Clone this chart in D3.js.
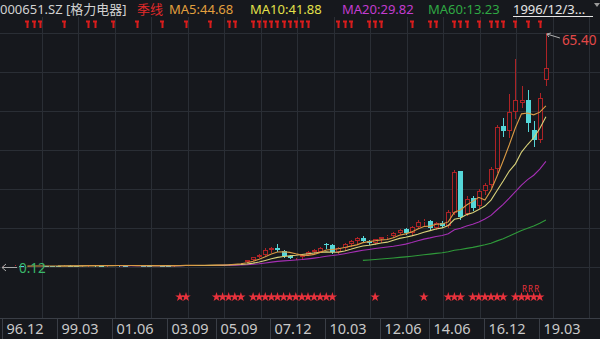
<!DOCTYPE html>
<html lang="zh">
<head>
<meta charset="UTF-8">
<title>000651.SZ 季线</title>
<style>
body{margin:0;background:#16181d;overflow:hidden;}
svg{display:block;}
text{font-family:"Noto Sans","Noto Sans CJK SC",sans-serif;}
</style>
</head>
<body>
<svg id="chart" width="600" height="339"></svg>
<script src="https://d3js.org/d3.v7.min.js"></script>
<script>
// quarterly candles 1996Q4 .. 2019Q2 (2016Q2 suspended, no candle)
const opens = [0.15,0.25,0.38,0.45,0.36,0.38,0.44,0.46,0.40,0.38,
  0.36,0.50,0.47,0.42,0.55,0.56,0.52,0.50,0.58,0.60,
  0.50,0.47,0.49,0.52,0.49,0.45,0.52,0.50,0.48,0.56,
  0.66,0.60,0.63,0.58,0.60,0.64,0.72,0.76,1.00,1.25,
  1.45,2.10,2.90,3.60,4.90,5.30,4.60,3.30,2.70,2.90,
  3.50,4.30,4.40,6.40,6.30,4.20,5.40,6.50,7.30,8.20,
  7.30,6.80,7.80,8.40,8.70,9.60,10.8,9.60,11.2,12.6,
  12.9,11.0,12.4,11.6,15.2,26.8,15.0,19.3,17.2,21.3,
  23.0,27.4,39.4,38.0,43.5,46.0,46.8,38.3,35.5,52.4];
const highs = [0.30,0.42,0.55,0.50,0.42,0.48,0.52,0.48,0.44,0.42,
  0.55,0.56,0.49,0.58,0.62,0.60,0.56,0.62,0.64,0.61,
  0.54,0.52,0.58,0.55,0.51,0.54,0.56,0.53,0.58,0.72,
  0.70,0.66,0.66,0.64,0.68,0.75,0.80,1.05,1.35,1.50,
  2.20,3.00,3.80,5.30,5.60,6.40,4.80,3.40,3.00,3.60,
  4.50,5.20,5.60,6.70,6.60,5.60,6.80,7.60,8.40,8.70,
  7.60,8.00,8.60,9.00,9.80,10.8,11.1,11.5,13.2,13.4,
  13.2,12.6,12.9,16.0,27.1,27.0,19.8,20.0,22.0,23.5,
  28.0,39.8,41.7,48.3,58.1,50.6,49.6,40.8,48.7,65.40];
const lows = [0.12,0.23,0.35,0.33,0.32,0.36,0.40,0.36,0.35,0.33,
  0.35,0.44,0.40,0.41,0.50,0.50,0.48,0.49,0.54,0.48,
  0.44,0.44,0.46,0.47,0.43,0.44,0.48,0.46,0.47,0.55,
  0.56,0.57,0.55,0.54,0.55,0.62,0.66,0.74,0.96,1.15,
  1.40,2.00,2.80,3.50,4.40,4.60,3.00,2.50,2.30,2.70,
  3.40,4.10,4.20,5.50,4.00,4.00,5.00,6.00,6.80,7.00,
  6.50,6.60,7.20,7.80,8.50,9.20,9.30,9.40,11.0,11.8,
  10.6,10.8,11.2,11.4,14.8,13.6,14.6,16.0,16.5,20.5,
  22.5,26.5,36.6,36.5,41.7,44.8,38.0,34.0,35.0,51.0];
const closes = [0.25,0.38,0.45,0.36,0.38,0.44,0.46,0.40,0.38,0.36,
  0.50,0.47,0.42,0.55,0.56,0.52,0.50,0.58,0.60,0.50,
  0.47,0.49,0.52,0.49,0.45,0.52,0.50,0.48,0.56,0.66,
  0.60,0.63,0.58,0.60,0.64,0.72,0.76,1.00,1.25,1.45,
  2.10,2.90,3.60,4.90,5.30,4.80,3.30,2.70,2.90,3.50,
  4.30,4.80,5.40,6.30,4.20,5.40,6.50,7.30,8.10,7.30,
  6.80,7.80,8.40,8.70,9.60,10.5,9.60,11.2,12.8,13.0,
  11.0,12.3,11.6,15.6,26.7,14.0,19.1,16.7,21.3,23.0,
  27.4,39.2,38.0,43.5,46.8,46.7,40.3,35.5,47.3,55.5];

const tickIdx = [0, 9, 18, 27, 35, 44, 53, 62, 70, 79, 88];
const tickLabels = ["96.12","99.03","01.06","03.09","05.09","07.12","10.03","12.06","14.06","16.12","19.03"];

// info-mine flags along the top, stars along the bottom
const mineIdx = [4,5,6,10,14,15,18,22,26,30,34,37,38,41,42,43,44,45,46,47,48,49,50,55,56,57,60,61,62,67,70,71,74,75,76,78,80,81,82,84,86,88];
const starIdx = [29,30,35,36,37,38,39,41,42,43,44,45,46,47,48,49,50,51,52,53,54,61,69,73,74,75,77,78,79,80,81,82,84,85,86,87,88];
const rIdx = [85,86,87];

const maInfo = [
  {n: 5,  label: "MA5:44.68",  color: "#e2a03e", line: "#d99a45"},
  {n: 10, label: "MA10:41.88", color: "#e3e04a", line: "#d9d27a"},
  {n: 20, label: "MA20:29.82", color: "#c23ccf", line: "#a52fb4"},
  {n: 60, label: "MA60:13.23", color: "#2fa843", line: "#2f9a3a"}
];

var svg = d3.select("#chart"),
    W = 600, H = 339,
    n = closes.length,
    x = d3.scaleLinear().domain([0, n - 1]).range([3, 3 + 6.1 * (n - 1)]),
    y = d3.scaleLinear().domain([0.12, 65.40]).range([267, 33]),
    axisY = 318,
    upColor = "#ad2326",
    downColor = "#55d6d8",
    gridColor = "#2a2e35";

var candles = closes.map(function (c, i) {
  return {i: i, o: opens[i], h: highs[i], l: lows[i], c: c};
});

// grid
var grid = svg.append("g");
grid.selectAll(".hg")
  .data(d3.range(7).map(function (k) { return 0.12 + k * (65.40 - 0.12) / 6; }))
  .enter().append("line")
  .attr("x1", 0).attr("x2", W)
  .attr("y1", function (d) { return Math.round(y(d)) + 0.5; })
  .attr("y2", function (d) { return Math.round(y(d)) + 0.5; })
  .attr("stroke", gridColor);
grid.selectAll(".vg")
  .data(d3.range(1, 17))
  .enter().append("line")
  .attr("x1", function (k) { return Math.round(5 + k * 36.5) + 0.5; })
  .attr("x2", function (k) { return Math.round(5 + k * 36.5) + 0.5; })
  .attr("y1", 17).attr("y2", axisY)
  .attr("stroke", gridColor);

// candles
var cg = svg.append("g");
candles.forEach(function (d) {
  var cx = Math.round(x(d.i)),
      up = d.c >= d.o,
      col = up ? upColor : downColor,
      top = Math.round(y(Math.max(d.o, d.c))),
      bot = Math.round(y(Math.min(d.o, d.c)));
  if (bot - top < 1) bot = top + 1;
  cg.append("line")
    .attr("x1", cx + 0.5).attr("x2", cx + 0.5)
    .attr("y1", Math.round(y(d.h))).attr("y2", top)
    .attr("stroke", col);
  cg.append("line")
    .attr("x1", cx + 0.5).attr("x2", cx + 0.5)
    .attr("y1", bot).attr("y2", Math.round(y(d.l)) + 1)
    .attr("stroke", col);
  if (up) {
    cg.append("rect")
      .attr("x", cx - 1.5).attr("y", top + 0.5)
      .attr("width", 4).attr("height", Math.max(bot - top - 1, 0))
      .attr("fill", "#16181d").attr("stroke", col);
  } else {
    cg.append("rect")
      .attr("x", cx - 2).attr("y", top)
      .attr("width", 5).attr("height", bot - top)
      .attr("fill", col);
  }
});

// moving averages
function movingAvg(k) {
  return closes.map(function (c, i) {
    return i < k - 1 ? null : d3.mean(closes.slice(i - k + 1, i + 1));
  });
}
var line = d3.line()
  .defined(function (d) { return d !== null; })
  .x(function (d, i) { return x(i); })
  .y(function (d) { return y(d); });
maInfo.slice().reverse().forEach(function (m) {
  svg.append("path")
    .datum(movingAvg(m.n))
    .attr("d", line)
    .attr("fill", "none")
    .attr("stroke", m.line)
    .attr("stroke-width", 1.1);
});

// header
var head = svg.append("g").attr("font-size", 13);
head.append("text").attr("x", 0).attr("y", 14).attr("fill", "#d2d2d2").text("000651.SZ [格力电器]");
head.append("text").attr("x", 137).attr("y", 14).attr("fill", "#e02a2a").text("季线");
var headX = [169, 250, 342, 428];
maInfo.forEach(function (m, k) {
  head.append("text").attr("x", headX[k]).attr("y", 14).attr("fill", m.color).text(m.label);
});
head.append("text").attr("x", 513).attr("y", 14).attr("fill", "#e6e6e6").text("1996/12/3...");
head.append("line").attr("x1", 513).attr("x2", 593).attr("y1", 16.5).attr("y2", 16.5).attr("stroke", "#e6e6e6");
head.append("path").attr("d", "M594,3L600,3L597,7Z").attr("fill", "#9a9a9a");

// top flags
svg.append("g").selectAll("path")
  .data(mineIdx)
  .enter().append("path")
  .attr("d", function (i) {
    var cx = Math.round(x(i));
    return "M" + (cx - 2) + ",21.5H" + (cx + 2) + "M" + (cx + 0.5) + ",21V28";
  })
  .attr("stroke", "#d81c1c").attr("stroke-width", 2).attr("fill", "none");

// stars and R marks
var star = d3.symbol().type(d3.symbolStar).size(28);
svg.append("g").selectAll("path")
  .data(starIdx)
  .enter().append("path")
  .attr("d", star)
  .attr("transform", function (i) { return "translate(" + x(i) + ",297)"; })
  .attr("fill", "#e8323c");
svg.append("g").selectAll("text")
  .data(rIdx)
  .enter().append("text")
  .attr("x", function (i) { return x(i) + 3; })
  .attr("y", 292)
  .attr("text-anchor", "middle")
  .attr("font-size", 8)
  .attr("fill", "#e8323c")
  .text("R");

// extreme labels
var hiIdx = d3.maxIndex(highs), loIdx = d3.minIndex(lows);
var hx = x(hiIdx), hy = y(highs[hiIdx]);
svg.append("path")
  .attr("d", "M" + (hx + 14) + "," + (hy + 5) + "L" + (hx + 1) + "," + (hy + 1) +
        "M" + (hx + 1) + "," + (hy + 1) + "l4,-1M" + (hx + 1) + "," + (hy + 1) + "l2,3")
  .attr("stroke", "#b0b0b0").attr("fill", "none");
svg.append("text").attr("x", hx + 16).attr("y", hy + 12)
  .attr("font-size", 13.5).attr("fill", "#e44848").text(highs[hiIdx].toFixed(2));
var ly = Math.round(y(lows[loIdx])) + 0.5;
svg.append("path")
  .attr("d", "M2," + ly + "H17M2," + ly + "l4,-3.5M2," + ly + "l4,3.5")
  .attr("stroke", "#a8a8a8").attr("fill", "none");
svg.append("text").attr("x", 19).attr("y", ly + 5)
  .attr("font-size", 13.5).attr("fill", "#3ab86a").text(lows[loIdx].toFixed(2));

// time axis
var ax = svg.append("g");
ax.append("line").attr("x1", 0).attr("x2", W).attr("y1", axisY + 0.5).attr("y2", axisY + 0.5).attr("stroke", "#3a3e46");
tickIdx.forEach(function (t, k) {
  var tx = Math.round(x(t)) - 0.5;
  ax.append("line").attr("x1", tx).attr("x2", tx).attr("y1", axisY).attr("y2", H).attr("stroke", "#3a3e46");
  ax.append("text").attr("x", tx + 4).attr("y", 334)
    .attr("font-size", 14.5).attr("fill", "#c9c9c9").text(tickLabels[k]);
});
</script>
</body>
</html>
